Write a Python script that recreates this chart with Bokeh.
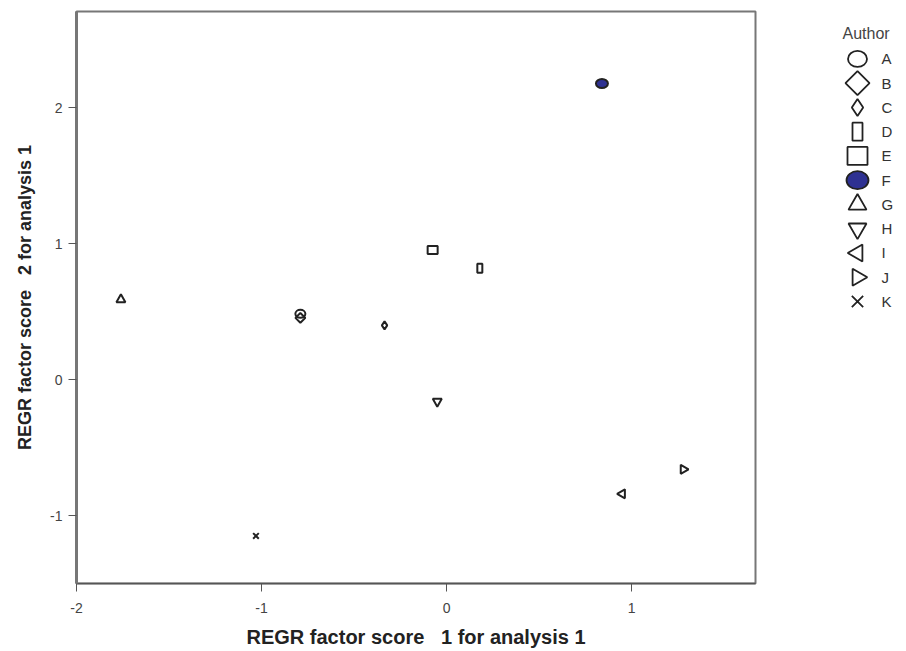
import math
from bokeh.plotting import figure
from bokeh.models import Range1d, FixedTicker
from bokeh.layouts import row
from bokeh.embed import file_html
from bokeh.resources import INLINE
from bokeh.core.properties import value

# ---- data ----
authors = ["A", "B", "C", "D", "E", "F", "G", "H", "I", "J", "K"]
score1 = [-0.79, -0.79, -0.335, 0.18, -0.075, 0.84, -1.76, -0.05, 0.95, 1.28, -1.03]
score2 = [0.485, 0.455, 0.40, 0.82, 0.955, 2.18, 0.59, -0.16, -0.84, -0.66, -1.15]
x_ticks = [-2, -1, 0, 1]
y_ticks = [-1, 0, 1, 2]
legend_title = "Author"
x_label = "REGR factor score \u00a0 1 for analysis 1"
y_label = "REGR factor score \u00a0 2 for analysis 1"

FONT = "Liberation Sans"
INK = "#222222"
NAVY = "#2E3192"

# marker styles
styles = {
    "A": dict(kind="ellipse", w=10, h=8, lw=19, lh=16, fill=None),
    "B": dict(kind="scatter", marker="square", angle=math.pi / 4, size=7, lsize=17),
    "C": dict(kind="scatter", marker="diamond", angle=0, size=8, lsize=17),
    "D": dict(kind="rect", w=5, h=9, lw=10, lh=18),
    "E": dict(kind="rect", w=10, h=8, lw=20, lh=18),
    "F": dict(kind="ellipse", w=12, h=9, lw=22, lh=18, fill=NAVY),
    "G": dict(kind="scatter", marker="triangle", angle=0, size=9, lsize=18),
    "H": dict(kind="scatter", marker="inverted_triangle", angle=0, size=9, lsize=18),
    "I": dict(kind="scatter", marker="triangle", angle=math.pi / 2, size=9, lsize=17),
    "J": dict(kind="scatter", marker="triangle", angle=-math.pi / 2, size=9, lsize=17),
    "K": dict(kind="scatter", marker="x", angle=0, size=8, lsize=16),
}


def draw(fig, x, y, st, legend, lw):
    if st["kind"] == "scatter":
        fig.scatter([x], [y], marker=st["marker"], angle=st["angle"],
                    size=st["lsize"] if legend else st["size"],
                    fill_color=None, line_color=INK, line_width=lw)
    elif st["kind"] == "rect":
        fig.rect([x], [y], width=st["lw"] if legend else st["w"],
                 height=st["lh"] if legend else st["h"],
                 width_units="screen", height_units="screen",
                 fill_color=None, line_color=INK, line_width=lw)
    else:
        fig.ellipse([x], [y], width=st["lw"] if legend else st["w"],
                    height=st["lh"] if legend else st["h"],
                    width_units="screen", height_units="screen",
                    fill_color=st["fill"], line_color=INK, line_width=lw)


# ---- main plot ----
p = figure(frame_width=679, frame_height=572,
           x_range=Range1d(-2.0, 1.67), y_range=Range1d(-1.50, 2.71),
           toolbar_location=None, output_backend="svg",
           min_border_left=76, min_border_top=11, min_border_bottom=60,
           min_border_right=10)
p.grid.visible = False
p.outline_line_color = "#777777"
p.outline_line_width = 2

p.xaxis.ticker = FixedTicker(ticks=x_ticks)
p.yaxis.ticker = FixedTicker(ticks=y_ticks)
p.xaxis.major_label_overrides = {t: str(t) for t in x_ticks}
p.yaxis.major_label_overrides = {t: str(t) for t in y_ticks}
p.axis.minor_tick_line_color = None
p.axis.major_tick_in = 0
p.axis.major_tick_out = 8
p.axis.major_tick_line_color = "#555555"
p.axis.major_label_text_font = FONT
p.axis.major_label_text_font_size = "14px"
p.axis.major_label_text_color = "#444444"
p.axis.axis_label_text_font = FONT
p.axis.axis_label_text_font_style = "bold"
p.axis.axis_label_text_color = INK
p.xaxis.axis_label_text_font_size = "20px"
p.yaxis.axis_label_text_font_size = "18px"
p.xaxis.axis_label = x_label
p.yaxis.axis_label = y_label
p.yaxis.axis_line_color = "#777777"
p.yaxis.axis_line_width = 3
p.xaxis.axis_line_color = "#555555"
p.xaxis.axis_line_width = 1.5
p.xaxis.major_label_standoff = 11
p.xaxis.axis_label_standoff = 10
p.yaxis.major_label_standoff = 6
p.yaxis.axis_label_standoff = 12

for a, x, y in zip(authors, score1, score2):
    draw(p, x, y, styles[a], False, 2)

# ---- legend panel ----
lg = figure(width=133, height=643, x_range=Range1d(0, 133), y_range=Range1d(643, 0),
            toolbar_location=None, output_backend="svg",
            x_axis_location=None, y_axis_location=None, min_border=0)
lg.grid.visible = False
lg.outline_line_color = None

lg.text(x=[77], y=[25], text=[legend_title], text_font=value(FONT),
        text_font_size="16px", text_color="#444444", text_baseline="middle")
row0, step = 54, 27.6
for i, a in enumerate(authors):
    draw(lg, 92, row0 + i * step, styles[a], True, 1.8)
lg.text(x=[116] * len(authors), y=[row0 + i * step for i in range(len(authors))],
        text=authors, text_font=value(FONT), text_font_size="15px",
        text_color="#333333", text_baseline="middle")

layout = row(p, lg)
open("out.html", "w").write(file_html(layout, INLINE))
